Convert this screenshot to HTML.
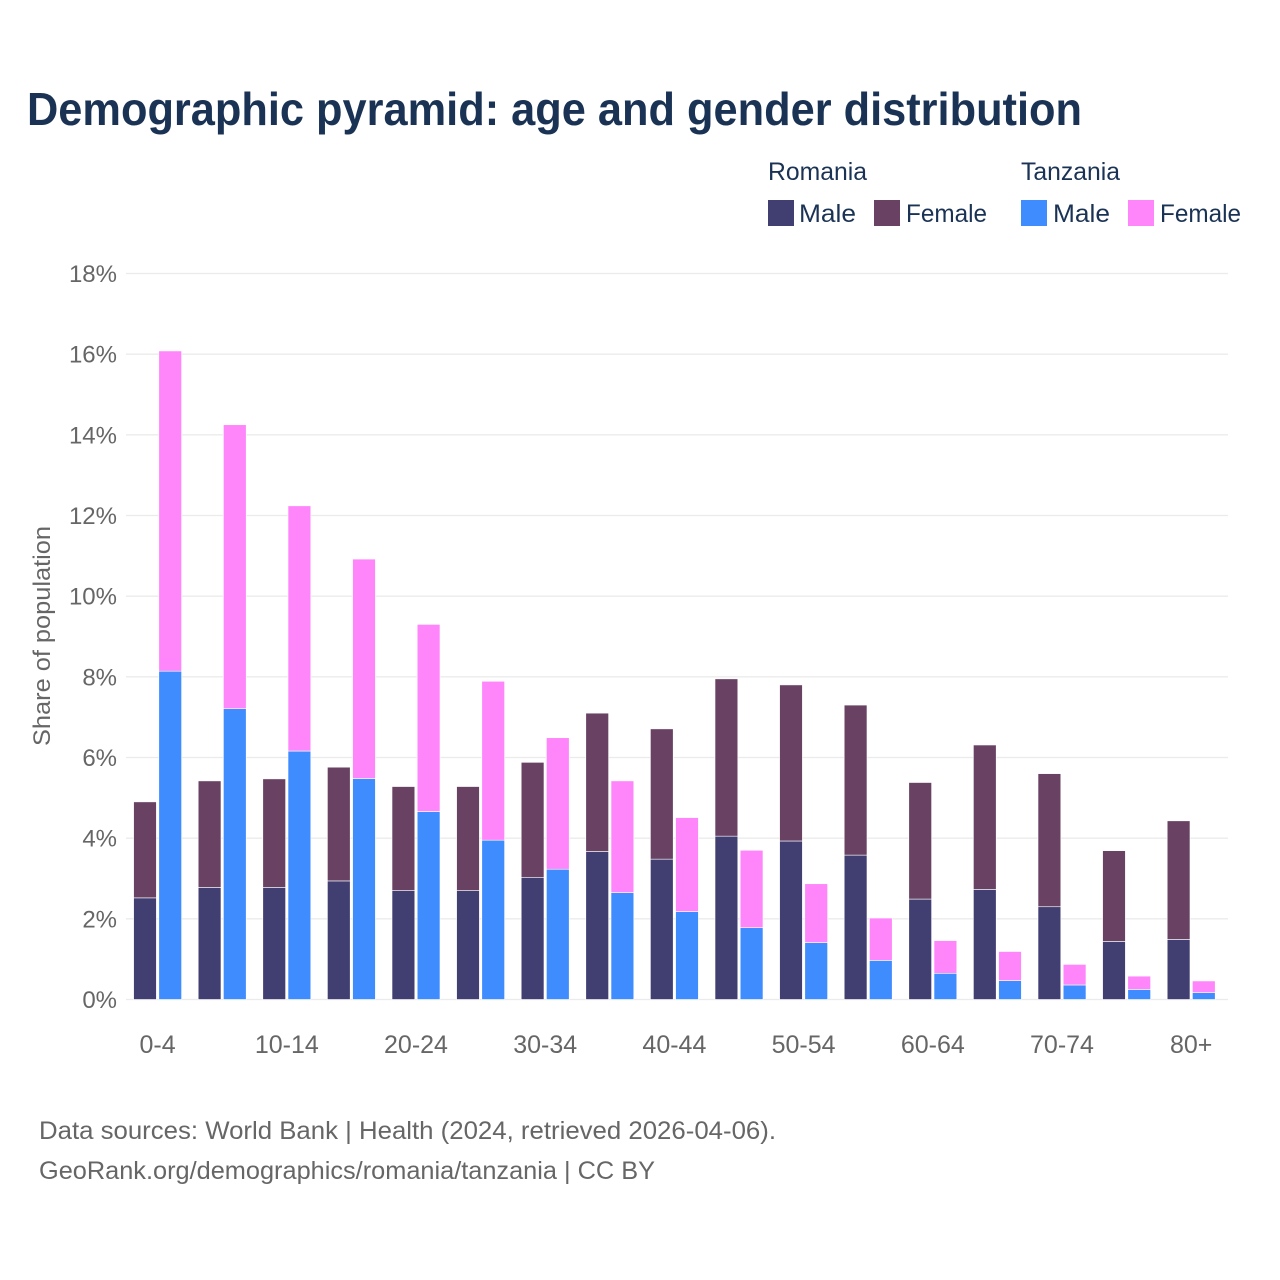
<!DOCTYPE html>
<html lang="en">
<head>
<meta charset="utf-8">
<title>Demographic pyramid: age and gender distribution</title>
<style>
html,body{margin:0;padding:0;background:#fff;}
svg{display:block;font-family:"Liberation Sans",sans-serif;}
</style>
</head>
<body>
<svg id="chart" xmlns="http://www.w3.org/2000/svg" width="1280" height="1280" viewBox="0 0 1280 1280">
  <rect x="0" y="0" width="1280" height="1280" fill="#ffffff"/>
  <text x="27" y="125" font-size="46" font-weight="700" fill="#1a3355" textLength="1055" lengthAdjust="spacingAndGlyphs">Demographic pyramid: age and gender distribution</text>

  <g font-size="25" fill="#1a3355">
    <text x="768" y="180" textLength="99" lengthAdjust="spacingAndGlyphs">Romania</text>
    <text x="1021" y="180" textLength="99" lengthAdjust="spacingAndGlyphs">Tanzania</text>
    <rect x="768" y="200" width="26" height="26" fill="#413f72"/>
    <text x="799" y="222" textLength="57" lengthAdjust="spacingAndGlyphs">Male</text>
    <rect x="874" y="200" width="26" height="26" fill="#684163"/>
    <text x="906" y="222" textLength="81" lengthAdjust="spacingAndGlyphs">Female</text>
    <rect x="1021" y="200" width="26" height="26" fill="#3f8cff"/>
    <text x="1053" y="222" textLength="57" lengthAdjust="spacingAndGlyphs">Male</text>
    <rect x="1128" y="200" width="26" height="26" fill="#ff85fa"/>
    <text x="1160" y="222" textLength="81" lengthAdjust="spacingAndGlyphs">Female</text>
  </g>

  <text transform="translate(50,636) rotate(-90)" text-anchor="middle" font-size="24" fill="#666666" textLength="220" lengthAdjust="spacingAndGlyphs">Share of population</text>

  <g id="grid"></g>
  <g id="yticks"></g>
  <g id="bars"></g>
  <g id="xticks"></g>

  <text x="39" y="1139" font-size="25" fill="#666666" textLength="737" lengthAdjust="spacingAndGlyphs">Data sources: World Bank | Health (2024, retrieved 2026-04-06).</text>
  <text x="39" y="1179" font-size="25" fill="#666666" textLength="616" lengthAdjust="spacingAndGlyphs">GeoRank.org/demographics/romania/tanzania | CC BY</text>
</svg>
<script>
var categories = ['0-4','5-9','10-14','15-19','20-24','25-29','30-34','35-39','40-44','45-49','50-54','55-59','60-64','65-69','70-74','75-79','80+'];
var romaniaMale = [2.52,2.78,2.78,2.94,2.70,2.70,3.03,3.67,3.48,4.05,3.93,3.58,2.49,2.73,2.30,1.44,1.49];
var romaniaFemale = [2.38,2.64,2.69,2.82,2.58,2.58,2.85,3.43,3.23,3.90,3.87,3.72,2.89,3.58,3.30,2.25,2.94];
var tanzaniaMale = [8.14,7.21,6.16,5.48,4.66,3.95,3.23,2.65,2.18,1.78,1.41,0.97,0.65,0.47,0.36,0.25,0.17];
var tanzaniaFemale = [7.94,7.04,6.08,5.44,4.64,3.94,3.26,2.77,2.33,1.92,1.46,1.05,0.81,0.72,0.51,0.33,0.29];
var yTicks = [0,2,4,6,8,10,12,14,16,18];

var NS = 'http://www.w3.org/2000/svg';
function yScale(v) { return 999.5 - v * (726 / 18); }
function xCenter(i) { return 157.6 + i * 64.6; }
var barWidth = 22.8;
var barOffset = 1.2;

function shape(parent, tag, attrs) {
  var el = document.createElementNS(NS, tag);
  for (var k in attrs) el.setAttribute(k, attrs[k]);
  parent.appendChild(el);
  return el;
}

var grid = document.getElementById('grid');
var yt = document.getElementById('yticks');
yTicks.forEach(function (t) {
  var line = shape(grid, 'line', {x1: 126, x2: 1228, y1: yScale(t), y2: yScale(t), stroke: '#ebebeb', 'stroke-width': 1.3});
  
  
  var label = shape(yt, 'text', {x: 117, y: yScale(t) + 8.5, 'text-anchor': 'end', 'font-size': 24, fill: '#666666'});
  label.textContent = t + '%';
  
  
});

var bars = document.getElementById('bars');
function drawBar(x, base, value, fill) {
  var yTop = yScale(base + value);
  var rect = shape(bars, 'rect', {x: x, y: yTop, width: barWidth, height: yScale(base) - yTop, fill: fill, stroke: '#ffffff', 'stroke-width': 0.6});
  
  
}
categories.forEach(function (c, i) {
  var cx = xCenter(i);
  var xLeft = cx - barOffset - barWidth;
  var xRight = cx + barOffset;
  drawBar(xLeft, 0, romaniaMale[i], '#413f72');
  drawBar(xLeft, romaniaMale[i], romaniaFemale[i], '#684163');
  drawBar(xRight, 0, tanzaniaMale[i], '#3f8cff');
  drawBar(xRight, tanzaniaMale[i], tanzaniaFemale[i], '#ff85fa');
});

var xt = document.getElementById('xticks');
categories.forEach(function (c, i) {
  if (i % 2 !== 0) return;
  var label = shape(xt, 'text', {x: xCenter(i), y: 1053, 'text-anchor': 'middle', 'font-size': 25, fill: '#666666'});
  label.textContent = c;
  
  
});
</script>
</body>
</html>
